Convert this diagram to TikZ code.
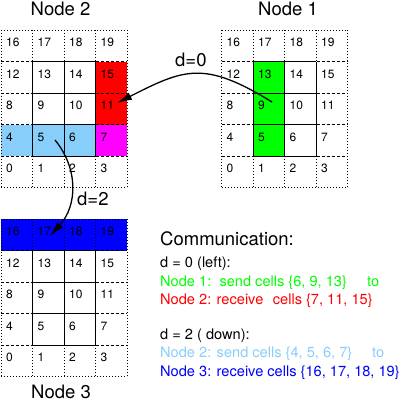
\documentclass[tikz,border=0pt]{standalone}
\usepackage{fontspec}
\setmainfont{TeX Gyre Heros}
\usetikzlibrary{arrows.meta,positioning}
\definecolor{cellgreen}{RGB}{0,255,0}
\definecolor{cellred}{RGB}{255,0,0}
\definecolor{cellmagenta}{RGB}{255,0,255}
\definecolor{cellsky}{RGB}{135,206,250}
\definecolor{cellblue}{RGB}{0,0,255}

\begin{document}
\begin{tikzpicture}[x=1pt,y=-1pt,
  cellnum/.style={anchor=base west,inner sep=0pt,font=\fontsize{12}{14}\selectfont},
  title/.style={anchor=base,inner sep=0pt,font=\fontsize{18.5}{22}\selectfont},
  info/.style={anchor=base west,inner sep=0pt,font=\fontsize{14.6}{17}\selectfont},
  ghost/.style={line width=0.8pt,dash pattern=on 1pt off 2pt},
  halo/.style={line width=0.8pt,dash pattern=on 3pt off 2pt},
  owned/.style={line width=1pt},
  comm/.style={line width=1.3pt,-{Latex[length=15pt,width=8pt]}}]
  \useasboundingbox (0,0) rectangle (411,402);
  \def\s{31.5}

  % coloured cells: what is sent and received
  \fill[cellred] ({1+3*\s},{30+\s}) rectangle ++(\s,{2*\s});
  \fill[cellmagenta] ({1+3*\s},{30+3*\s}) rectangle ++(\s,\s);
  \fill[cellsky] (1,{30+3*\s}) rectangle ++({3*\s},\s);
  \fill[cellgreen] ({221.5+\s},{30+\s}) rectangle ++(\s,{3*\s});
  \fill[cellblue] (1,219) rectangle ++({4*\s},\s);

  % the three local grids with ghost cells
  \foreach \g/\gx/\gy in {two/1/30, one/221.5/30, three/1/219}{
    \foreach \c in {0,...,4}
      \draw[ghost] ({\gx+\c*\s},\gy) -- ++(0,{5*\s});
    \draw[ghost] (\gx,\gy) -- ++({4*\s},0) (\gx,{\gy+5*\s}) -- ++({4*\s},0);
    \foreach \r in {1,...,4}
      \draw[halo] (\gx,{\gy+\r*\s}) -- ++({4*\s},0);
    \foreach \k in {1,2,3}
      \draw[owned] ({\gx+\k*\s},{\gy+\s}) -- ++(0,{3*\s});
    \foreach \k in {1,...,4}
      \draw[owned] ({\gx+\s},{\gy+\k*\s}) -- ++({2*\s},0);
    \foreach \r in {0,...,4}
      \foreach \c in {0,...,3}{
        \pgfmathtruncatemacro{\num}{4*(4-\r)+\c}
        \node[cellnum] (\g-\num) at ({\gx+\c*\s+5},{\gy+\r*\s+16.5}) {\num};
      }
  }

  \node[title] (lbl-two) at (60.5,15) {Node 2};
  \node[title] (lbl-one) at (288,15) {Node 1};
  \node[title] (lbl-three) at (61,398) {Node 3};

  % exchange arrows
  \coordinate (d0-from) at (272,102);
  \coordinate (d0-to) at (117,103);
  \draw[comm] (d0-from) .. controls (204,60) and (184,69) .. (d0-to);
  \node[title,anchor=base west] (d0) at (175,66) {d=0};

  \coordinate (d2-from) at (55,140);
  \coordinate (d2-to) at (50,236);
  \draw[comm] (d2-from) .. controls (78,168) and (78,205) .. (d2-to);
  \node[title,anchor=base west] (d2) at (77,205) {d=2};

  % legend
  \node[info,font=\fontsize{18.5}{22}\selectfont] (comm) at (160,245) {Communication:};
  \node[info] (case0) at (160,267.5) {d = 0 (left):};
  \node[info,text=cellgreen] (send0) at (160,286) {Node 1:\hspace{8.2pt}send cells \{6, 9, 13\}};
  \node[info,text=cellgreen] (send0-to) at (367,286) {to};
  \node[info,text=cellred] (recv0) at (160,304.5) {Node 2: receive\hspace{9.5pt}cells \{7, 11, 15\}};
  \node[info] (case2) at (160,339.5) {d = 2 ( down):};
  \node[info,text=cellsky] (send2) at (160,357.5) {Node 2: send cells \{4, 5, 6, 7\}};
  \node[info,text=cellsky] (send2-to) at (372,357.5) {to};
  \node[info,text=cellblue] (recv2) at (160,376) {Node 3: receive cells \{16, 17, 18, 19\}};
\end{tikzpicture}
\end{document}
